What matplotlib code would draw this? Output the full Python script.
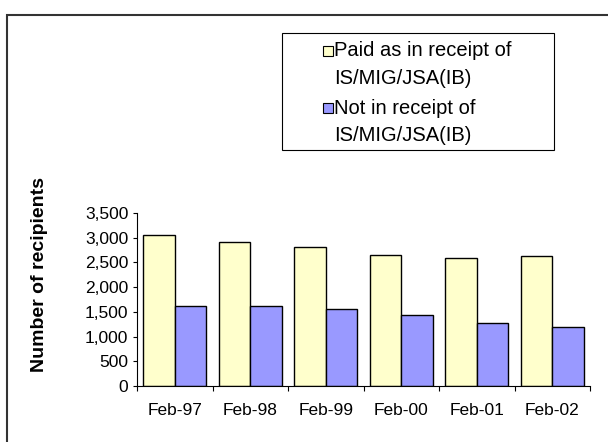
import matplotlib
matplotlib.use("Agg")
import matplotlib.pyplot as plt
from matplotlib.patches import Rectangle
from matplotlib.ticker import FuncFormatter, FixedLocator
import numpy as np

plt.rcParams['font.family'] = ['Liberation Sans', 'DejaVu Sans']

# data
years = ["Feb-97", "Feb-98", "Feb-99", "Feb-00", "Feb-01", "Feb-02"]
paid_as_receipt = [3065, 2910, 2810, 2660, 2595, 2625]
not_in_receipt = [1625, 1625, 1565, 1440, 1280, 1185]
series_labels = ["Paid as in receipt of\nIS/MIG/JSA(IB)",
                 "Not in receipt of\nIS/MIG/JSA(IB)"]
series_colors = ["#FFFFCC", "#9999FF"]
y_ticks = [0, 500, 1000, 1500, 2000, 2500, 3000, 3500]

W, H = 608, 442
fig = plt.figure(figsize=(W / 100, H / 100), dpi=100)
ax = fig.add_axes([137 / W, 1 - 386 / H, (590 - 137) / W, (386 - 213) / H])

x = np.arange(len(years))
width = 0.42
ax.bar(x - width / 2, paid_as_receipt, width, color=series_colors[0],
       edgecolor='black', linewidth=1.0)
ax.bar(x + width / 2, not_in_receipt, width, color=series_colors[1],
       edgecolor='black', linewidth=1.0)

ax.set_xlim(-0.5, len(years) - 0.5)
ax.set_ylim(0, 3500)
ax.set_yticks(y_ticks)
ax.yaxis.set_major_formatter(FuncFormatter(lambda v, p: f"{int(v):,}"))
ax.set_xticks(x)
ax.set_xticklabels(years)
ax.xaxis.set_minor_locator(FixedLocator(np.arange(len(years) + 1) - 0.5))

ax.tick_params(axis='x', which='major', length=0, pad=12, labelsize=12.5)
ax.tick_params(axis='x', which='minor', length=3.6, width=0.8, direction='out')
ax.tick_params(axis='y', length=3.2, width=0.8, pad=3, labelsize=12.5)

for s in ['top', 'right']:
    ax.spines[s].set_visible(False)
for s in ['left', 'bottom']:
    ax.spines[s].set_linewidth(0.8)

ax.set_ylabel("Number of recipients", fontsize=14, fontweight='bold')
ax.yaxis.set_label_coords((48 - 137) / (590 - 137), (386 - 275) / (386 - 213))

# legend box drawn by hand to keep marker on first line
fig.add_artist(Rectangle((282 / W, 1 - 150 / H), (554 - 282) / W, (150 - 33) / H,
                         transform=fig.transFigure, facecolor='white',
                         edgecolor='black', linewidth=0.8))
entry_top = [46, 103]
for lab, col, top in zip(series_labels, series_colors, entry_top):
    fig.add_artist(Rectangle((323 / W, 1 - (top + 10) / H), 10 / W, 10 / H,
                             transform=fig.transFigure, facecolor=col,
                             edgecolor='black', linewidth=0.8))
    for i, line in enumerate(lab.split("\n")):
        fig.text(334.5 / W, 1 - (top + 10.5 + i * 27.5) / H, line, fontsize=14.5,
                 va='baseline', ha='left')

# outer chart frame (only top and left edges fall inside the image)
fig.add_artist(Rectangle((7 / W, -0.1), 1.2, 1 - 15 / H + 0.1,
                         transform=fig.transFigure, fill=False,
                         edgecolor='#333333', linewidth=1.5))

fig.savefig("out.png", dpi=100)
